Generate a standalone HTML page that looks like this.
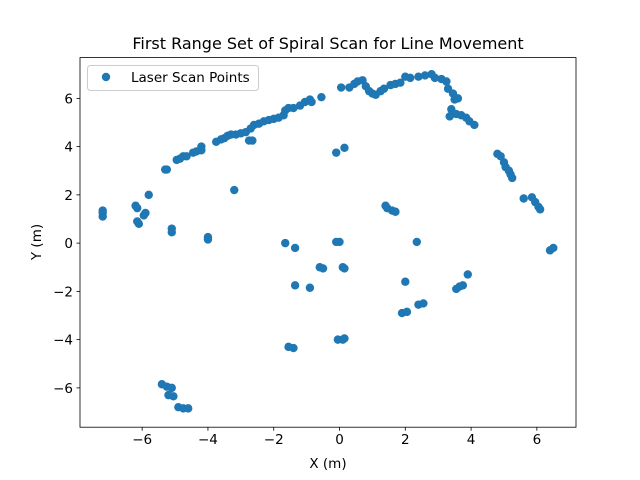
<!DOCTYPE html>
<html><head><meta charset="utf-8"><style>
body{margin:0;background:#fff}
svg{display:block;font-family:"DejaVu Sans","Liberation Sans",sans-serif}
</style></head><body>
<svg id="chart" width="640" height="480">
<rect width="640" height="480" fill="#fff"/>
<text x="328" y="49" text-anchor="middle" font-size="16" fill="#000">First Range Set of Spiral Scan for Line Movement</text>
<g id="marks"></g>
<g id="axes"></g>
<text x="328" y="468" text-anchor="middle" font-size="13.5">X (m)</text>
<text transform="translate(41,242) rotate(-90)" text-anchor="middle" font-size="13.5">Y (m)</text>
<g>
<rect x="87.5" y="65.5" width="171" height="25" rx="3" fill="#fff" fill-opacity="0.8" stroke="#ccc"/>
<circle cx="106" cy="77" r="4.2" fill="#1f77b4"/>
<text x="131" y="82" font-size="13.5">Laser Scan Points</text>
</g>
</svg>
<script>
const xs=[-7.2,-7.2,-7.2,-6.2,-6.15,-6.15,-6.1,-5.95,-5.9,-5.8,-5.3,-5.25,-5.1,-5.1,-4.95,-4.85,-4.75,-4.65,-4.45,-4.35,-4.2,-4.2,-4.0,-4.0,-3.75,-3.6,-3.5,-3.4,-3.3,-3.15,-3.0,-2.85,-3.2,-2.75,-2.65,-2.7,-2.6,-2.45,-2.3,-2.15,-2.0,-1.85,-1.7,-1.65,-1.55,-1.4,-1.2,-1.05,-0.9,-0.85,-0.55,-1.65,-1.35,-1.35,-0.9,-0.6,-0.5,-1.55,-1.4,-0.1,0.0,-0.1,0.15,0.1,0.15,-0.05,0.1,0.15,0.05,0.3,0.45,0.55,0.7,0.8,0.9,1.0,1.1,1.25,1.35,1.55,1.7,1.85,2.0,2.15,2.4,2.6,2.8,2.9,3.1,3.25,3.3,3.45,3.5,3.6,3.35,3.4,3.55,3.7,3.85,3.95,4.1,1.4,1.45,1.6,1.7,2.35,2.0,1.9,2.05,2.4,2.55,3.55,3.65,3.75,3.9,4.8,4.9,5.0,5.05,5.15,5.2,5.25,5.6,5.85,5.95,6.05,6.1,6.4,6.5,-5.4,-5.25,-5.1,-5.2,-5.05,-4.9,-4.75,-4.6];
const ys=[1.1,1.25,1.35,1.55,1.45,0.9,0.8,1.15,1.25,2.0,3.05,3.05,0.45,0.6,3.45,3.5,3.6,3.6,3.75,3.8,3.85,4.0,0.15,0.25,4.2,4.3,4.35,4.45,4.5,4.5,4.55,4.6,2.2,4.25,4.25,4.75,4.9,4.95,5.05,5.1,5.15,5.2,5.3,5.5,5.6,5.6,5.7,5.85,5.95,5.85,6.05,0.0,-0.2,-1.75,-1.85,-1.0,-1.05,-4.3,-4.35,0.05,0.05,3.75,3.95,-1.0,-1.05,-4.0,-4.0,-3.95,6.45,6.45,6.6,6.7,6.75,6.5,6.3,6.2,6.15,6.3,6.4,6.55,6.6,6.65,6.9,6.85,6.9,6.95,7.0,6.85,6.8,6.7,6.4,6.2,5.95,6.0,5.25,5.55,5.35,5.3,5.2,5.05,4.9,1.55,1.45,1.35,1.3,0.05,-1.6,-2.9,-2.85,-2.55,-2.5,-1.9,-1.8,-1.75,-1.3,3.7,3.6,3.35,3.15,3.0,2.85,2.7,1.85,1.9,1.7,1.5,1.4,-0.3,-0.2,-5.85,-5.95,-6.0,-6.3,-6.35,-6.8,-6.85,-6.85];
const xTicks=[-6,-4,-2,0,2,4,6];
const yTicks=[-6,-4,-2,0,2,4,6];
const L=80,R=576,T=57.6,B=427.2,xmin=-7.89,xmax=7.19,ymin=-7.63,ymax=7.69;
const sx=v=>L+(v-xmin)/(xmax-xmin)*(R-L);
const sy=v=>B-(v-ymin)/(ymax-ymin)*(B-T);
const NS="http://www.w3.org/2000/svg";
const marks=document.getElementById('marks'),axes=document.getElementById('axes');
xs.forEach((x,i)=>{const c=document.createElementNS(NS,'circle');
c.setAttribute('cx',sx(x));c.setAttribute('cy',sy(ys[i]));c.setAttribute('r',4.2);c.setAttribute('fill','#1f77b4');


marks.appendChild(c);});
const f=document.createElementNS(NS,'rect');
f.setAttribute('x',L);f.setAttribute('y',T);f.setAttribute('width',R-L);f.setAttribute('height',B-T);f.setAttribute('fill','none');f.setAttribute('stroke','#000');f.setAttribute('stroke-width','0.8');


axes.appendChild(f);
const lab=v=>v<0?'\u2212'+(-v):''+v;
xTicks.forEach(v=>{const l=document.createElementNS(NS,'line');const x=sx(v);
l.setAttribute('x1',x);l.setAttribute('x2',x);l.setAttribute('y1',B);l.setAttribute('y2',B+3.5);l.setAttribute('stroke','#000');l.setAttribute('stroke-width','0.8');


axes.appendChild(l);
const t=document.createElementNS(NS,'text');t.setAttribute('x',x);t.setAttribute('y',B+17);t.setAttribute('text-anchor','middle');t.setAttribute('font-size','13.5');t.textContent=lab(v);


axes.appendChild(t);});
yTicks.forEach(v=>{const l=document.createElementNS(NS,'line');const y=sy(v);
l.setAttribute('x1',L-3.5);l.setAttribute('x2',L);l.setAttribute('y1',y);l.setAttribute('y2',y);l.setAttribute('stroke','#000');l.setAttribute('stroke-width','0.8');


axes.appendChild(l);
const t=document.createElementNS(NS,'text');t.setAttribute('x',L-7);t.setAttribute('y',y+5);t.setAttribute('text-anchor','end');t.setAttribute('font-size','13.5');t.textContent=lab(v);


axes.appendChild(t);});
</script>
</body></html>
